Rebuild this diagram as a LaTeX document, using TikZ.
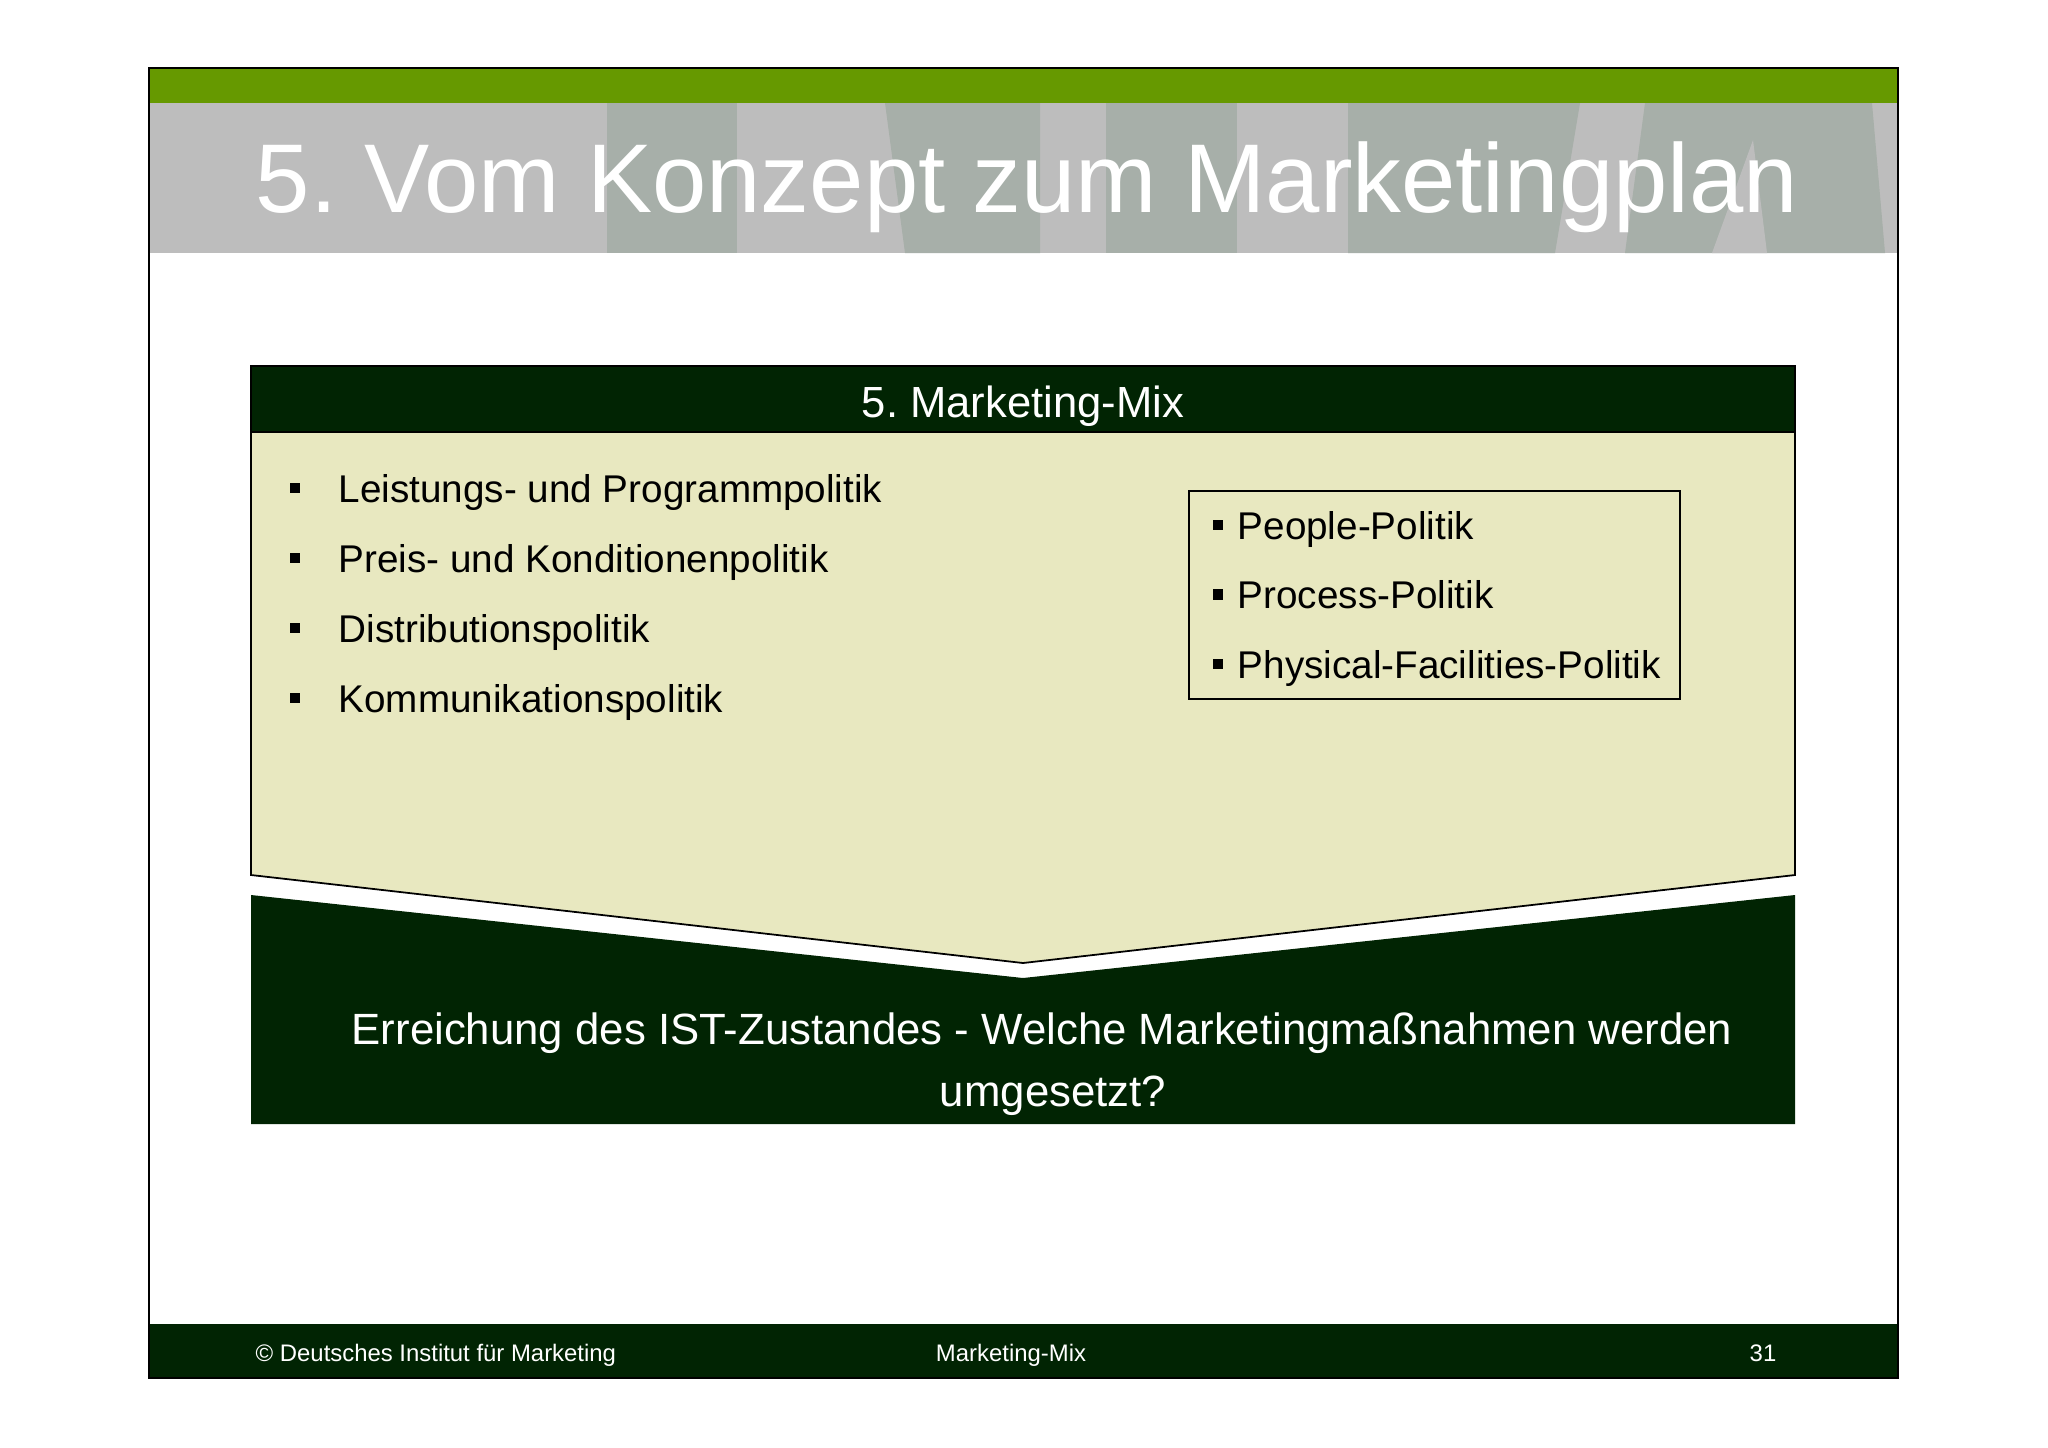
\documentclass[tikz,border=0pt]{standalone}
\usepackage{fontspec}
\setmainfont{Liberation Sans}
\definecolor{dimgreen}{RGB}{102,153,0}
\definecolor{dimdark}{RGB}{1,36,3}
\definecolor{dimcream}{RGB}{232,232,192}
\definecolor{bandlight}{RGB}{189,189,189}
\definecolor{banddark}{RGB}{167,175,169}
\tikzset{
	itemtext/.style={anchor=base west,inner sep=0pt,font=\fontsize{11}{13}\selectfont},
	sqbullet/.style={fill=black,minimum size=2.9pt,inner sep=0pt},
	whitetext/.style={text=white,inner sep=0pt}
}
\frenchspacing
\begin{document}
\begin{tikzpicture}[x=0.1mm,y=-0.1mm]
		\useasboundingbox (0,0) rectangle (2048,1447);
		\fill[white] (0,0) rectangle (2048,1447);
		% title band
		\fill[bandlight] (149,103) rectangle (1898,253);
		\fill[banddark] (607,103) rectangle (737,253);
		\fill[banddark] (885,103)--(1040,103)--(1040,253)--(905,253)--cycle;
		\fill[banddark] (1106,103) rectangle (1237,253);
		\fill[banddark] (1348,103)--(1580,103)--(1555,253)--(1348,253)--cycle;
		\fill[banddark] (1645,103)--(1872,103)--(1885,253)--(1625,253)--cycle;
		\fill[bandlight] (1753,140)--(1767,253)--(1712,253)--cycle;
		\fill[dimgreen] (149,68) rectangle (1898,103);
		\node[whitetext,anchor=base,font=\fontsize{27.8}{30}\selectfont] (title) at (1027,212) {5. Vom Konzept zum Marketingplan};
		% marketing mix
		\fill[dimdark] (251,895)--(1023,978)--(1795,895)--(1795,1124)--(251,1124)--cycle;
		\draw[fill=dimcream,line width=0.5pt] (251,432)--(1795,432)--(1795,875)--(1023,963)--(251,875)--cycle;
		\draw[fill=dimdark,line width=0.5pt] (251,366) rectangle (1795,432);
		\node[whitetext,anchor=base,font=\fontsize{12.4}{14}\selectfont] (mixhead) at (1023,417) {5. Marketing-Mix};
		\foreach \txt [count=\i] in {Leistungs- und Programmpolitik,Preis- und Konditionenpolitik,Distributionspolitik,Kommunikationspolitik}{
			\node[sqbullet] (lb\i) at (295,{502+70*(\i-1)-14}) {};
			\node[itemtext] (li\i) at (338,{502+70*(\i-1)}) {\txt};
		}
		\draw[line width=0.6pt] (1189,491) rectangle (1680,699);
		\foreach \txt [count=\i] in {People-Politik,Process-Politik,Physical-Facilities-Politik}{
			\node[sqbullet] (rb\i) at (1218,{539+69.5*(\i-1)-14}) {};
			\node[itemtext] (ri\i) at (1237,{539+69.5*(\i-1)}) {\txt};
		}
		\node[whitetext,anchor=base,font=\fontsize{12.45}{14}\selectfont] (goala) at (1042,1044) {Erreichung des IST-Zustandes - Welche Marketingmaßnahmen werden};
		\node[whitetext,anchor=base,font=\fontsize{12.45}{14}\selectfont] (goalb) at (1053,1106) {umgesetzt?};
		% footer
		\fill[dimdark] (149,1324) rectangle (1898,1378);
		\node[whitetext,anchor=base west,font=\fontsize{6.8}{8}\selectfont] (copy) at (255,1361) {© Deutsches Institut für Marketing};
		\node[whitetext,anchor=base,font=\fontsize{6.8}{8}\selectfont] (topic) at (1011,1361) {Marketing-Mix};
		\node[whitetext,anchor=base,font=\fontsize{6.8}{8}\selectfont] (page) at (1763,1361) {31};
		\draw[line width=0.7pt] (149,68) rectangle (1898,1378);
	\end{tikzpicture}
\end{document}
